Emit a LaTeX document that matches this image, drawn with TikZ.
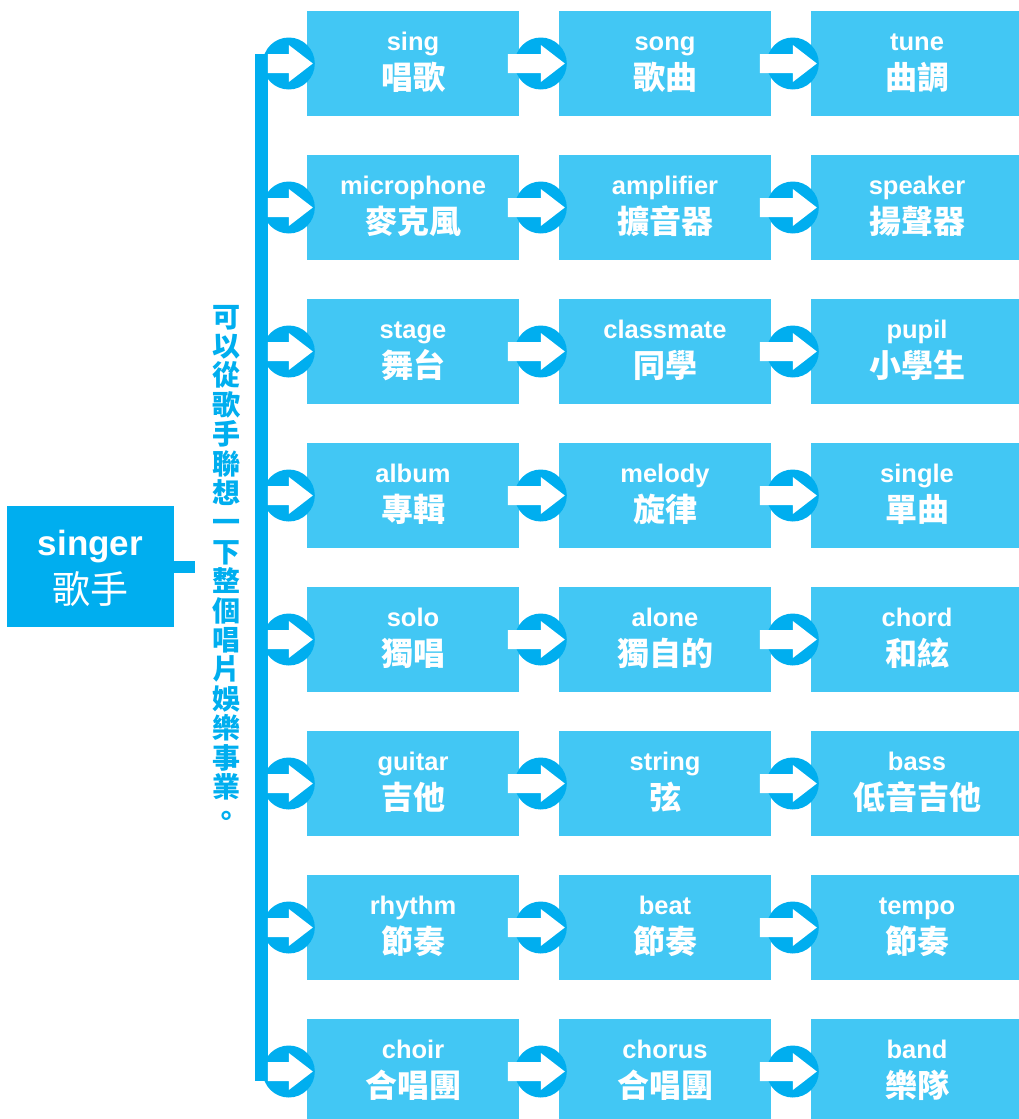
\documentclass[tikz,border=0pt]{standalone}
\usepackage{fontspec}
\setmainfont{Liberation Sans}
\newfontfamily\cjk{Noto Sans CJK TC}
\usepackage{xcolor}
\usepackage{tikz}
\usetikzlibrary{calc}
\definecolor{tilecolor}{HTML}{42C7F4}
\definecolor{hubcolor}{HTML}{00AEEF}
% english word over its chinese gloss
\newcommand{\duo}[2]{\rule{0pt}{27pt}#1\\{\cjk\bfseries\fontsize{32}{39.2}\selectfont #2\rule[-13.8pt]{0pt}{13.8pt}}}

\begin{document}
\begin{tikzpicture}[x=1pt, y=-1pt,
    word/.style={rectangle, fill=tilecolor, text=white, minimum width=212pt, minimum height=105pt, inner sep=0pt, align=center, font=\fontsize{25.5}{39.2}\selectfont\bfseries},
    topic/.style={rectangle, fill=hubcolor, text=white, minimum width=167pt, minimum height=121pt, inner sep=0pt, align=center, font=\fontsize{35}{48}\selectfont\bfseries},
    note/.style={text=hubcolor, inner sep=0pt, align=center, font=\cjk\bfseries\fontsize{28}{29.4}\selectfont},
    spoke/.style={fill=hubcolor},
    pics/jump/.style={code={
        \fill[hubcolor] (0,0) circle (26pt);
        \fill[white] (-#1,-9.5) -- (0,-9.5) -- (0,-18.5) -- (24,0) -- (0,18.5) -- (0,9.5) -- (-#1,9.5) -- cycle;
    }}
]
\useasboundingbox (0,0) rectangle (1019,1119);
\clip (0,0) rectangle (1019,1119);

% Central topic
\node[topic] (singer) at (90.5,566.5) {singer\rule{0pt}{35pt}\\{\cjk\mdseries\fontsize{38}{48}\selectfont 歌手\rule[-10pt]{0pt}{10pt}}};
\coordinate (stub) at ([xshift=21pt]singer.east);
\draw[hubcolor, line width=12pt] (singer.east) -- (stub);

% Vertical caption
\node[note] (caption) at (226.5,566) {可\\以\\從\\歌\\手\\聯\\想\\一\\下\\整\\個\\唱\\片\\娛\\樂\\事\\業\\。};

% Word chains, one row each
\node[word] (sing) at (413,63.5) {\duo{sing}{唱歌}};
\node[word] (song) at (665,63.5) {\duo{song}{歌曲}};
\node[word] (tune) at (917,63.5) {\duo{tune}{曲調}};

\node[word] (mic) at (413,207.5) {\duo{microphone}{麥克風}};
\node[word] (amp) at (665,207.5) {\duo{amplifier}{擴音器}};
\node[word] (speaker) at (917,207.5) {\duo{speaker}{揚聲器}};

\node[word] (stage) at (413,351.5) {\duo{stage}{舞台}};
\node[word] (classmate) at (665,351.5) {\duo{classmate}{同學}};
\node[word] (pupil) at (917,351.5) {\duo{pupil}{小學生}};

\node[word] (album) at (413,495.5) {\duo{album}{專輯}};
\node[word] (melody) at (665,495.5) {\duo{melody}{旋律}};
\node[word] (single) at (917,495.5) {\duo{single}{單曲}};

\node[word] (solo) at (413,639.5) {\duo{solo}{獨唱}};
\node[word] (alone) at (665,639.5) {\duo{alone}{獨自的}};
\node[word] (chord) at (917,639.5) {\duo{chord}{和絃}};

\node[word] (guitar) at (413,783.5) {\duo{guitar}{吉他}};
\node[word] (string) at (665,783.5) {\duo{string}{弦}};
\node[word] (bass) at (917,783.5) {\duo{bass}{低音吉他}};

\node[word] (rhythm) at (413,927.5) {\duo{rhythm}{節奏}};
\node[word] (beat) at (665,927.5) {\duo{beat}{節奏}};
\node[word] (tempo) at (917,927.5) {\duo{tempo}{節奏}};

\node[word] (choir) at (413,1071.5) {\duo{choir}{合唱團}};
\node[word] (chorus) at (665,1071.5) {\duo{chorus}{合唱團}};
\node[word] (band) at (917,1071.5) {\duo{band}{樂隊}};

% Spine feeding the first column
\fill[spoke] ([xshift=-52pt,yshift=9.5pt]sing.west) rectangle ([xshift=-39pt,yshift=-9.5pt]choir.west);

% Round arrows between the words
\foreach \a/\b/\c in {sing/song/tune, mic/amp/speaker, stage/classmate/pupil, album/melody/single,
    solo/alone/chord, guitar/string/bass, rhythm/beat/tempo, choir/chorus/band} {
  \pic at ([xshift=-18pt]\a.west) {jump=21};
  \pic at ([xshift=-18pt]\b.west) {jump=33};
  \pic at ([xshift=-18pt]\c.west) {jump=33};
}
\end{tikzpicture}
\end{document}
